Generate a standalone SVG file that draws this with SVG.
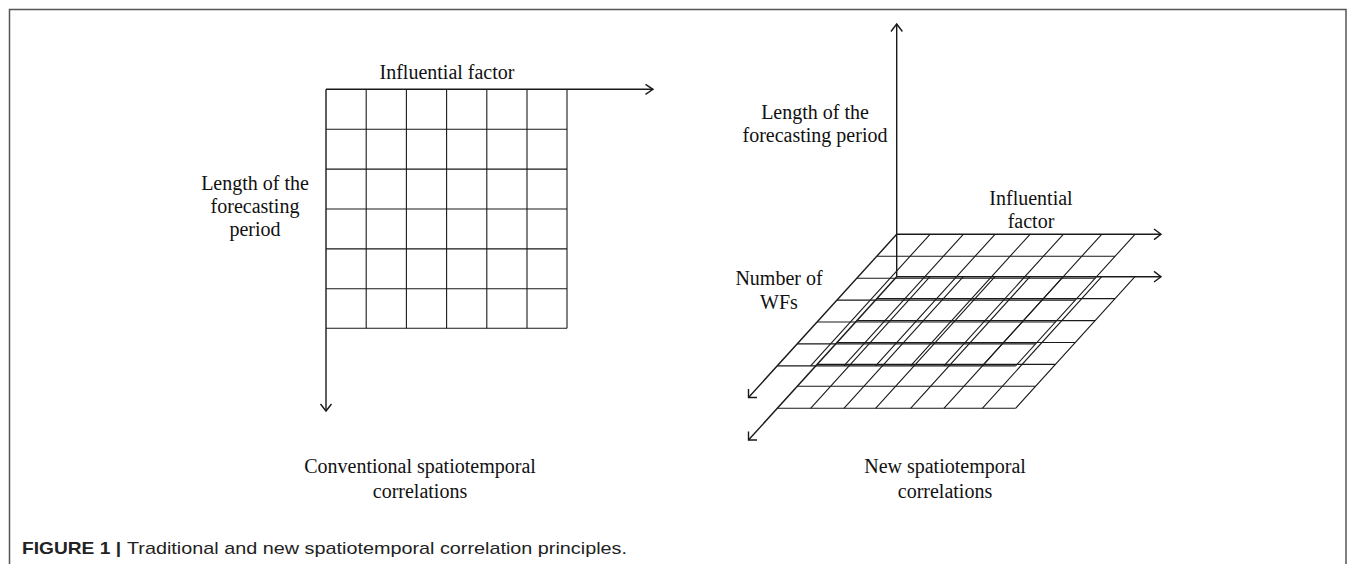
<svg xmlns="http://www.w3.org/2000/svg" width="1355" height="564" viewBox="0 0 1355 564">
<style>
.frame{fill:none;stroke:#555;stroke-width:1.5}
.ln{fill:none;stroke:#1a1a1a;stroke-width:1.1}
.ax{fill:none;stroke:#1a1a1a;stroke-width:1.4}
.ah{fill:none;stroke:#1a1a1a;stroke-width:1.4;stroke-linejoin:miter}
.t{font-family:"Liberation Serif","Times New Roman",serif;font-size:20px;fill:#111;text-anchor:middle}
.cap{font-family:"Liberation Sans",Arial,sans-serif;font-size:17px;fill:#222}
</style>
<rect width="1355" height="564" fill="#fff"/>
<path class="frame" d="M9.5,564 V9.5 H1346 V564"/>

<g id="conventional-grid">
<path class="ln" d="M326,129.2H567M326,169.1H567M326,209H567M326,248.9H567M326,288.8H567M326,328.3H567"/>
<path class="ln" d="M366.2,89.3V328.3M406.4,89.3V328.3M446.6,89.3V328.3M486.8,89.3V328.3M527,89.3V328.3M567,89.3V328.3"/>
</g>

<g id="new-grid-upper">
<path class="ln" d="M876.8,256.2h238.3M856.9,278.2h238.3M837,300.1h238.3M817.1,322h238.3M797.2,343.9h238.3M777.3,365.9h238.3"/>
<path class="ln" d="M930,234.3l-119.4,131.6M963.3,234.3l-119.4,131.6M995,234.3l-119.4,131.6M1030,234.3l-119.4,131.6M1063.3,234.3l-119.4,131.6M1101.7,234.3l-119.4,131.6M1135,234.3l-119.4,131.6"/>
</g>

<g id="new-grid-lower">
<path class="ln" d="M876.8,298.6h238.3M856.9,320.6h238.3M837,342.5h238.3M817.1,364.4h238.3M797.2,386.3h238.3M777.3,408.3h238.3"/>
<path class="ln" d="M930,276.7l-119.4,131.6M963.3,276.7l-119.4,131.6M995,276.7l-119.4,131.6M1030,276.7l-119.4,131.6M1063.3,276.7l-119.4,131.6M1101.7,276.7l-119.4,131.6M1135,276.7l-119.4,131.6"/>
</g>

<g id="connectors">
<path class="ax" d="M326,89.3H653"/>
<path class="ah" d="M645.5,84.3L653,89.3L645.5,94.3"/>
<path class="ax" d="M326,89.3V411"/>
<path class="ah" d="M320.5,404L326,411L331.5,404"/>
<path class="ax" d="M896.7,276.7V24"/>
<path class="ah" d="M891,31.5L896.7,24L902.4,31.5"/>
<path class="ax" d="M896.7,234.3H1161"/>
<path class="ah" d="M1154,229L1161,234.3L1154,239.6"/>
<path class="ax" d="M896.7,276.7H1161"/>
<path class="ah" d="M1154,271.4L1161,276.7L1154,282"/>
<path class="ax" d="M896.7,234.3L748.5,397.5"/>
<path class="ah" d="M748.5,389L748.5,397.5L757,397.5"/>
<path class="ax" d="M896.7,276.7L748.5,440"/>
<path class="ah" d="M748.5,431.5L748.5,440L757,440"/>
</g>

<g id="labels">
<text class="t" x="447" y="79">Influential factor</text>
<text class="t" x="255" y="190">Length of the</text>
<text class="t" x="255" y="213">forecasting</text>
<text class="t" x="255" y="236">period</text>
<text class="t" x="815" y="119">Length of the</text>
<text class="t" x="815" y="142">forecasting period</text>
<text class="t" x="1031" y="205">Influential</text>
<text class="t" x="1031" y="228">factor</text>
<text class="t" x="779" y="285">Number of</text>
<text class="t" x="779" y="309">WFs</text>
<text class="t" x="420" y="473">Conventional spatiotemporal</text>
<text class="t" x="420" y="498">correlations</text>
<text class="t" x="945" y="473">New spatiotemporal</text>
<text class="t" x="945" y="498">correlations</text>
</g>

<g id="caption">
<text class="cap" x="22" y="554" font-weight="bold" textLength="99" lengthAdjust="spacingAndGlyphs">FIGURE 1 |</text>
<text class="cap" x="127" y="554" textLength="500" lengthAdjust="spacingAndGlyphs">Traditional and new spatiotemporal correlation principles.</text>
</g>
</svg>
